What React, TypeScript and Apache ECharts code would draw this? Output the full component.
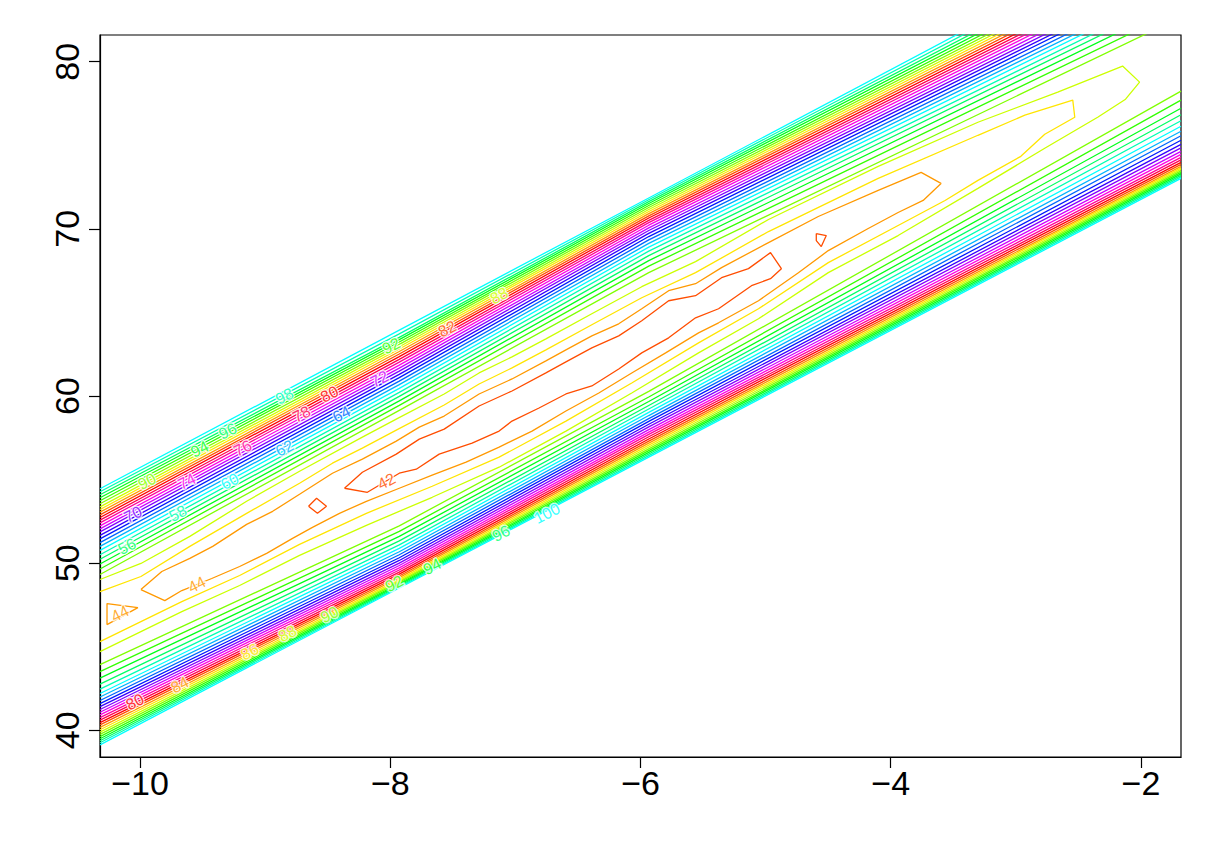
import React, { useEffect, useRef } from "react";
import * as echarts from "echarts";

// ---------- axes ----------
const xTicks = [-10, -8, -6, -4, -2];
const yTicks = [40, 50, 60, 70, 80];
const xRange = [-10.32, -1.68];
const yRange = [38.4, 81.6];

// R rainbow(20) palette, cycled over the contour levels (level 40 -> index 0)
const palette = [
  "#FF0000", "#FF4D00", "#FF9900", "#FFE500", "#CCFF00", "#80FF00", "#33FF00", "#00FF1A", "#00FF66", "#00FFB3",
  "#00FFFF", "#00B3FF", "#0066FF", "#001AFF", "#3300FF", "#8000FF", "#CC00FF", "#FF00E6", "#FF0099", "#FF004D",
];

// ---------- outer contours (levels 50..100), read at four x stations ----------
const outerLevels = [50, 52, 54, 56, 58, 60, 62, 64, 66, 68, 70, 72, 74, 76, 78, 80, 82, 84, 86, 88, 90, 92, 94, 96, 98, 100];
const stationX = [-10.32, -7.928, -5.934, -1.68];
// level-100 line on the upper side and on the lower side of the valley
const upperEdgeY = [54.45, 63.94, 71.85, 88.73];
const lowerEdgeY = [39.13, 48.51, 56.34, 73.02];
// how far below the upper level-100 line each level lies (y units), per station
const upperDepthA = [5.13, 4.8, 4.5, 4.22, 3.95, 3.69, 3.45, 3.22, 3.0, 2.79, 2.58, 2.4, 2.22, 2.04, 1.88, 1.72, 1.56, 1.4, 1.24, 1.08, 0.9, 0.72, 0.54, 0.36, 0.18, 0];
const upperDepthB = [4.8, 4.5, 4.23, 3.96, 3.72, 3.48, 3.26, 3.05, 2.84, 2.65, 2.45, 2.27, 2.09, 1.91, 1.75, 1.58, 1.43, 1.28, 1.13, 0.99, 0.85, 0.71, 0.57, 0.43, 0.22, 0];
const upperDepthC = [4.47, 4.08, 3.75, 3.45, 3.18, 2.94, 2.72, 2.51, 2.31, 2.12, 1.95, 1.79, 1.63, 1.48, 1.34, 1.2, 1.07, 0.94, 0.81, 0.69, 0.57, 0.45, 0.33, 0.22, 0.11, 0];
const upperDepthD = [6.06, 5.58, 5.16, 4.8, 4.5, 4.2, 3.96, 3.72, 3.48, 3.27, 3.06, 2.85, 2.64, 2.46, 2.28, 2.1, 1.92, 1.74, 1.56, 1.38, 1.2, 1.0, 0.78, 0.55, 0.28, 0];
// how far above the lower level-100 line each level lies (y units), per station
const lowerHeightA = [4.8, 4.38, 3.99, 3.63, 3.33, 3.07, 2.86, 2.65, 2.46, 2.28, 2.11, 1.95, 1.79, 1.63, 1.48, 1.33, 1.19, 1.04, 0.9, 0.76, 0.62, 0.49, 0.36, 0.24, 0.12, 0];
const lowerHeightB = [3.72, 3.39, 3.09, 2.82, 2.58, 2.37, 2.17, 1.99, 1.81, 1.65, 1.49, 1.35, 1.21, 1.08, 0.95, 0.83, 0.72, 0.62, 0.52, 0.43, 0.35, 0.27, 0.2, 0.13, 0.06, 0];
const lowerHeightC = [3.94, 3.6, 3.33, 3.09, 2.88, 2.68, 2.49, 2.31, 2.14, 1.97, 1.81, 1.65, 1.5, 1.36, 1.22, 1.09, 0.96, 0.84, 0.72, 0.61, 0.5, 0.39, 0.29, 0.19, 0.09, 0];
const lowerHeightD = [5.22, 4.68, 4.2, 3.81, 3.45, 3.12, 2.82, 2.55, 2.28, 2.04, 1.83, 1.62, 1.44, 1.26, 1.11, 0.96, 0.84, 0.72, 0.63, 0.54, 0.45, 0.36, 0.27, 0.18, 0.09, 0];

// ---------- inner contours (levels 42..48) ----------
const contour42Main = [
  [-8.366, 54.48], [-8.223, 55.44], [-7.952, 56.52], [-7.768, 57.42], [-7.569, 58.02], [-7.29, 59.4], [-7.027, 60.3],
  [-6.756, 61.38], [-6.596, 62.04], [-6.389, 62.88], [-6.174, 63.6], [-5.99, 64.5], [-5.775, 65.7], [-5.56, 66.0],
  [-5.352, 67.08], [-5.137, 67.62], [-4.961, 68.58], [-4.874, 67.62], [-4.961, 67.02], [-5.113, 66.6], [-5.376, 65.22],
  [-5.56, 64.68], [-5.775, 63.48], [-5.99, 62.58], [-6.174, 61.62], [-6.389, 60.6], [-6.596, 60.12], [-6.811, 59.28],
  [-7.027, 58.5], [-7.13, 57.9], [-7.346, 57.18], [-7.609, 56.52], [-7.792, 55.62], [-7.928, 55.38], [-8.183, 54.24],
  [-8.366, 54.48],
];
const contour42Diamond = [[-8.653, 53.4], [-8.589, 53.88], [-8.51, 53.4], [-8.582, 52.98], [-8.653, 53.4]];
const contour42Small = [[-4.595, 69.72], [-4.515, 69.6], [-4.555, 68.94], [-4.595, 69.3], [-4.595, 69.72]];
const contour44Main = [
  [-9.993, 48.42], [-9.826, 49.5], [-9.602, 50.28], [-9.419, 51.0], [-9.148, 52.32], [-8.94, 53.1], [-8.725, 54.12],
  [-8.462, 55.38], [-8.223, 56.22], [-7.952, 57.3], [-7.768, 58.14], [-7.569, 58.8], [-7.29, 60.12], [-7.027, 61.02],
  [-6.756, 62.1], [-6.596, 62.76], [-6.389, 63.6], [-6.174, 64.32], [-5.99, 65.22], [-5.775, 66.3], [-5.56, 66.72],
  [-5.352, 67.68], [-4.977, 69.18], [-4.579, 70.74], [-4.1, 72.3], [-3.757, 73.38], [-3.598, 72.72],
  [-3.741, 71.7], [-3.941, 70.98], [-4.18, 70.02], [-4.499, 68.7], [-4.738, 67.38], [-5.057, 65.7], [-5.376, 64.38],
  [-5.536, 63.78], [-5.799, 62.58], [-6.07, 61.38], [-6.333, 60.18], [-6.596, 59.1], [-6.867, 57.9], [-7.13, 56.94],
  [-7.394, 56.04], [-7.665, 55.26], [-7.928, 54.48], [-8.191, 53.7], [-8.406, 52.98], [-8.622, 52.14], [-8.781, 51.48],
  [-8.988, 50.58], [-9.204, 49.8], [-9.427, 49.08], [-9.666, 48.36], [-9.802, 47.76], [-9.993, 48.42],
];
const contour44Edge = [[-10.264, 46.32], [-10.264, 47.58], [-10.017, 47.34], [-10.264, 46.32]];
const contour46 = [
  [-10.32, 48.3], [-9.993, 49.2], [-9.602, 51.0], [-9.148, 52.98], [-8.725, 54.78], [-8.462, 55.98], [-8.223, 56.88],
  [-7.952, 57.96], [-7.569, 59.46], [-7.29, 60.72], [-7.027, 61.68], [-6.756, 62.76], [-6.389, 64.26], [-5.99, 65.88],
  [-5.56, 67.38], [-4.977, 69.84], [-4.1, 73.02], [-3.303, 75.6], [-2.928, 76.8], [-2.545, 77.7], [-2.529, 76.68],
  [-2.769, 75.66], [-2.96, 74.34], [-3.303, 72.9], [-3.566, 71.7], [-3.941, 70.2], [-4.499, 67.98], [-5.057, 65.22],
  [-5.536, 63.18], [-6.07, 60.78], [-6.596, 58.5], [-7.13, 56.34], [-7.665, 54.6], [-8.191, 52.98], [-8.725, 51.12],
  [-9.204, 49.26], [-9.666, 47.7], [-9.993, 46.5], [-10.32, 45.3],
];
const contour48 = [
  [-10.32, 49.02], [-9.993, 49.98], [-9.602, 51.6], [-9.148, 53.7], [-8.725, 55.5], [-8.223, 57.54], [-7.952, 58.62],
  [-7.569, 60.12], [-7.29, 61.38], [-7.027, 62.34], [-6.756, 63.42], [-6.389, 64.92], [-5.99, 66.54], [-5.56, 68.04],
  [-4.977, 70.56], [-4.1, 73.74], [-3.303, 76.38], [-2.665, 78.18], [-2.147, 79.74], [-2.011, 78.78],
  [-2.123, 77.76], [-2.346, 76.68], [-2.769, 74.82], [-3.303, 72.42], [-3.941, 69.6], [-4.499, 67.38], [-5.057, 64.62],
  [-5.536, 62.58], [-6.07, 60.18], [-6.596, 57.9], [-7.13, 55.74], [-7.665, 53.94], [-8.191, 52.26], [-8.725, 50.46],
  [-9.204, 48.66], [-9.666, 47.1], [-9.993, 45.9], [-10.32, 44.7],
];

// ---------- contour labels: [x, y, level] ----------
const contourLabels = [
  [-8.845, 60.0, 98], [-9.299, 57.9, 96], [-9.523, 56.82, 94], [-7.992, 63.0, 92], [-9.945, 54.9, 90],
  [-7.13, 66.0, 88], [-7.545, 64.02, 82], [-8.486, 60.12, 80], [-8.709, 58.92, 78], [-9.18, 56.88, 76],
  [-9.626, 54.9, 74], [-8.087, 61.02, 72], [-10.057, 52.92, 70], [-8.39, 58.92, 64], [-8.845, 56.88, 62],
  [-9.283, 54.9, 60], [-9.698, 52.98, 58], [-10.105, 51.0, 56], [-8.031, 54.9, 42], [-9.546, 48.72, 44],
  [-10.161, 46.98, 44],
  [-10.041, 41.7, 80], [-9.682, 42.72, 84], [-9.124, 44.7, 86], [-8.821, 45.78, 88], [-8.486, 46.92, 90],
  [-7.968, 48.78, 92], [-7.665, 49.8, 94], [-7.114, 51.78, 96], [-6.748, 52.98, 100],
];

const levelColor = (lv: number) => palette[((lv - 40) / 2) % 20];
const minus = (v: number) => (v < 0 ? "\u2212" + Math.abs(v) : String(v));

function lineSeries(data: number[][], color: string) {
  return {
    type: "line",
    data,
    showSymbol: false,
    symbol: "none",
    silent: true,
    clip: true,
    z: 2,
    lineStyle: { color, width: 1.3 },
  };
}

export default function App() {
  const ref = useRef<HTMLDivElement>(null);
  useEffect(() => {
    if (!ref.current) return;
    const chart = echarts.init(ref.current, undefined, { renderer: "svg" });
    const upperDepths = [upperDepthA, upperDepthB, upperDepthC, upperDepthD];
    const lowerHeights = [lowerHeightA, lowerHeightB, lowerHeightC, lowerHeightD];
    const series: any[] = [];
    outerLevels.forEach((lv, i) => {
      const up = stationX.map((x, s) => [x, upperEdgeY[s] - upperDepths[s][i]]);
      const lo = stationX.map((x, s) => [x, lowerEdgeY[s] + lowerHeights[s][i]]);
      series.push(lineSeries(up, levelColor(lv)));
      series.push(lineSeries(lo, levelColor(lv)));
    });
    series.push(lineSeries(contour48, levelColor(48)));
    series.push(lineSeries(contour46, levelColor(46)));
    series.push(lineSeries(contour44Main, levelColor(44)));
    series.push(lineSeries(contour44Edge, levelColor(44)));
    series.push(lineSeries(contour42Main, levelColor(42)));
    series.push(lineSeries(contour42Diamond, levelColor(42)));
    series.push(lineSeries(contour42Small, levelColor(42)));
    series.push({
      type: "scatter",
      silent: true,
      z: 5,
      symbol: "circle",
      symbolSize: 1,
      itemStyle: { color: "rgba(255,255,255,0)" },
      data: contourLabels.map((d) => ({
        value: d,
        label: { color: levelColor(d[2]) },
      })),
      label: {
        show: true,
        position: "inside",
        formatter: (p: any) => String(p.value[2]),
        rotate: 27,
        fontSize: 16,
        fontFamily: "Liberation Sans, Arial, sans-serif",
        textBorderColor: "#fff",
        textBorderWidth: 2.5,
      },
      labelLayout: { hideOverlap: false },
    });

    chart.setOption({
      animation: false,
      grid: {
        left: 100,
        top: 35,
        width: 1081,
        height: 722,
        show: true,
        borderColor: "#000",
        borderWidth: 1.2,
        backgroundColor: "transparent",
      },
      xAxis: {
        type: "value",
        min: xRange[0],
        max: xRange[1],
        splitLine: { show: false },
        axisLine: { show: true, onZero: false, lineStyle: { color: "#000", width: 1.2 } },
        axisTick: { show: true, customValues: xTicks, length: 11, lineStyle: { color: "#000", width: 1.2 } },
        axisLabel: {
          customValues: xTicks,
          formatter: (v: number) => minus(v),
          fontSize: 34,
          color: "#000",
          fontFamily: "Liberation Sans, Arial, sans-serif",
          margin: 9,
        },
      },
      yAxis: {
        type: "value",
        min: yRange[0],
        max: yRange[1],
        splitLine: { show: false },
        axisLine: { show: true, onZero: false, lineStyle: { color: "#000", width: 1.2 } },
        axisTick: { show: true, customValues: yTicks, length: 11, lineStyle: { color: "#000", width: 1.2 } },
        axisLabel: {
          customValues: yTicks,
          formatter: (v: number) => minus(v),
          rotate: 90,
          fontSize: 34,
          color: "#000",
          fontFamily: "Liberation Sans, Arial, sans-serif",
          margin: 16,
        },
      },
      series,
    });
    return () => chart.dispose();
  }, []);
  return <div ref={ref} style={{ position: "absolute", left: 0, top: 0, width: 1221, height: 848 }} />;
}
